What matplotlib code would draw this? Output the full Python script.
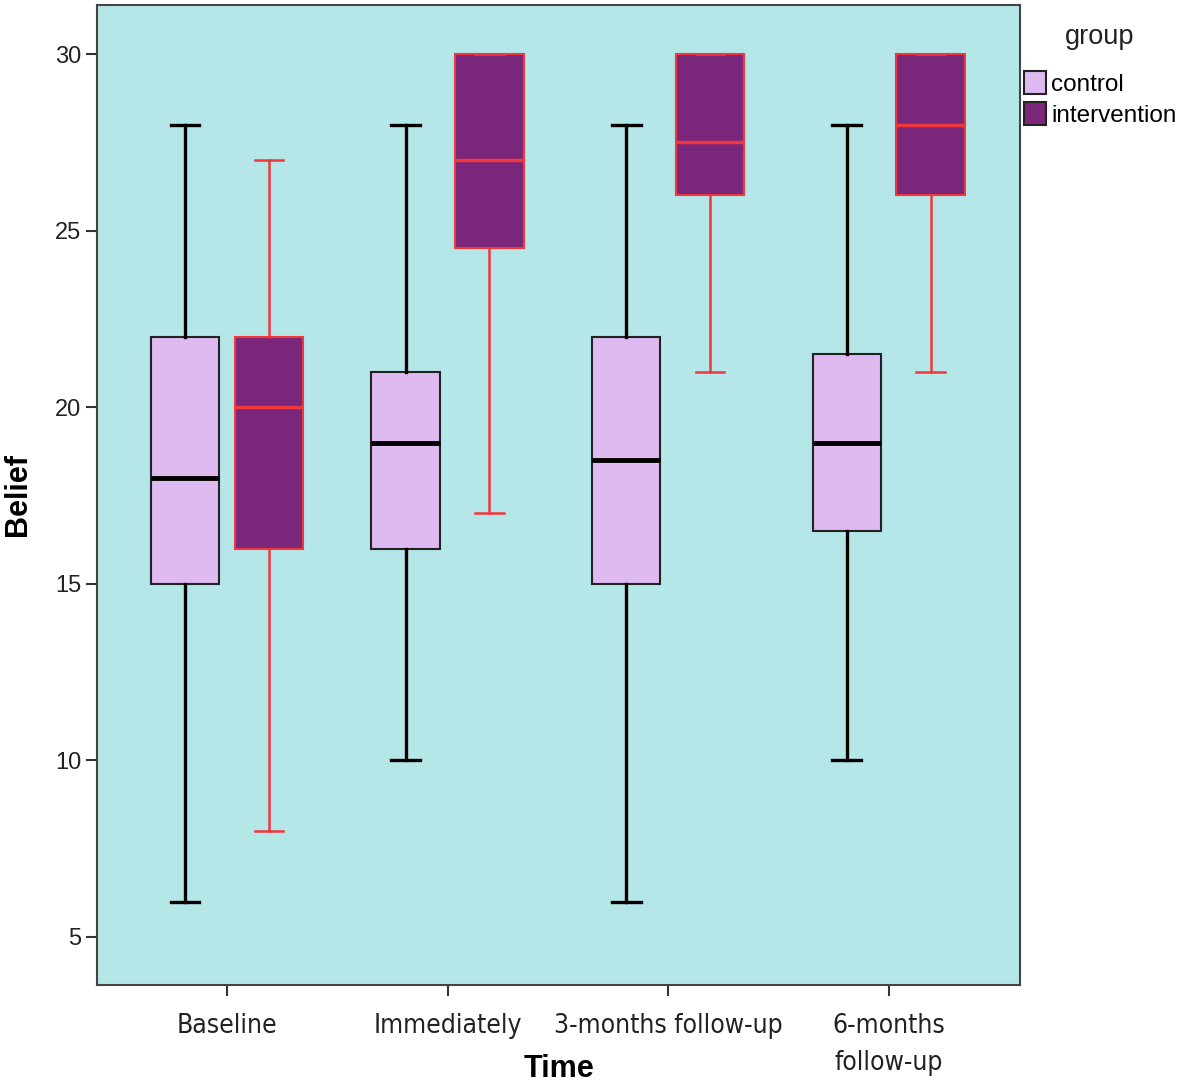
"""
belief scores by time and group, boxplot
"""
import matplotlib
matplotlib.use("Agg")
import matplotlib.pyplot as plt
from matplotlib.patches import Patch

times = ["Baseline", "Immediately", "3-months follow-up", "6-months\nfollow-up"]
groups = ["control", "intervention"]

# per time point: whisker low, q1, median, q3, whisker high
control_low = [6, 10, 6, 10]
control_q1 = [15, 16, 15, 16.5]
control_med = [18, 19, 18.5, 19]
control_q3 = [22, 21, 22, 21.5]
control_high = [28, 28, 28, 28]

interv_low = [8, 17, 21, 21]
interv_q1 = [16, 24.5, 26, 26]
interv_med = [20, 27, 27.5, 28]
interv_q3 = [22, 30, 30, 30]
interv_high = [27, 30, 30, 30]

bg = "#b5e6e8"
control_fill = "#dfbaf0"
interv_fill = "#7a267a"
red = "#f0373c"
sans = ["Liberation Sans", "DejaVu Sans"]


def make_stats(low, q1, med, q3, high):
    return [dict(whislo=a, q1=b, med=c, q3=d, whishi=e, fliers=[])
            for a, b, c, d, e in zip(low, q1, med, q3, high)]


fig = plt.figure(figsize=(11.81, 10.85), dpi=100)
ax = fig.add_axes([97 / 1181, 1 - 985 / 1085, 923 / 1181, 980 / 1085])
ax.set_facecolor(bg)

xs = list(range(len(times)))
offset = 0.19
width = 0.31

ax.bxp(make_stats(control_low, control_q1, control_med, control_q3, control_high),
       positions=[x - offset for x in xs], widths=width, capwidths=0.13,
       patch_artist=True, showfliers=False,
       boxprops=dict(facecolor=control_fill, edgecolor="#222222", linewidth=1.5),
       whiskerprops=dict(color="black", linewidth=2.4),
       capprops=dict(color="black", linewidth=2.4),
       medianprops=dict(color="black", linewidth=3.5))

ax.bxp(make_stats(interv_low, interv_q1, interv_med, interv_q3, interv_high),
       positions=[x + offset for x in xs], widths=width, capwidths=0.13,
       patch_artist=True, showfliers=False,
       boxprops=dict(facecolor=interv_fill, edgecolor=red, linewidth=1.5),
       whiskerprops=dict(color=red, linewidth=1.8),
       capprops=dict(color=red, linewidth=1.8),
       medianprops=dict(color=red, linewidth=2.5))

ax.set_xlim(-0.589, 3.595)
ax.set_ylim(3.64, 31.39)
ax.set_yticks([5, 10, 15, 20, 25, 30])
ax.set_xticks(xs)
ax.set_xticklabels(times, family="DejaVu Sans", stretch="condensed",
                   fontsize=19, linespacing=1.55)
ax.tick_params(axis="y", labelsize=17, length=8, width=1.5, color="#333333",
               labelcolor="#222222")
ax.tick_params(axis="x", length=8, width=1.5, color="#333333", pad=12,
               labelcolor="#222222")
for lbl in ax.get_yticklabels():
    lbl.set_family(sans)
for s in ax.spines.values():
    s.set_color("#444444")
    s.set_linewidth(1.5)

ax.set_ylabel("Belief", fontsize=22, fontweight="bold", family=sans, labelpad=16)
ax.set_xlabel("Time", fontsize=22, fontweight="bold", family=sans, va="center")
ax.xaxis.set_label_coords(0.5, -0.086)

handles = [Patch(facecolor=control_fill, edgecolor="#222222", linewidth=1.5),
           Patch(facecolor=interv_fill, edgecolor="#222222", linewidth=1.5)]
fig.text(1100 / 1181, 1 - 37 / 1085, "group", family=sans, fontsize=19.5,
         ha="center", va="center", color="#222222")
fig.legend(handles, groups, loc="upper left",
           bbox_to_anchor=(1022 / 1181, 1 - 69 / 1085), frameon=False,
           prop=dict(family=sans, size=17.5),
           handlelength=0.9, handleheight=1.05, handletextpad=0.2,
           labelspacing=0.25, borderaxespad=0, borderpad=0.1)

fig.savefig("out.png", dpi=100)
